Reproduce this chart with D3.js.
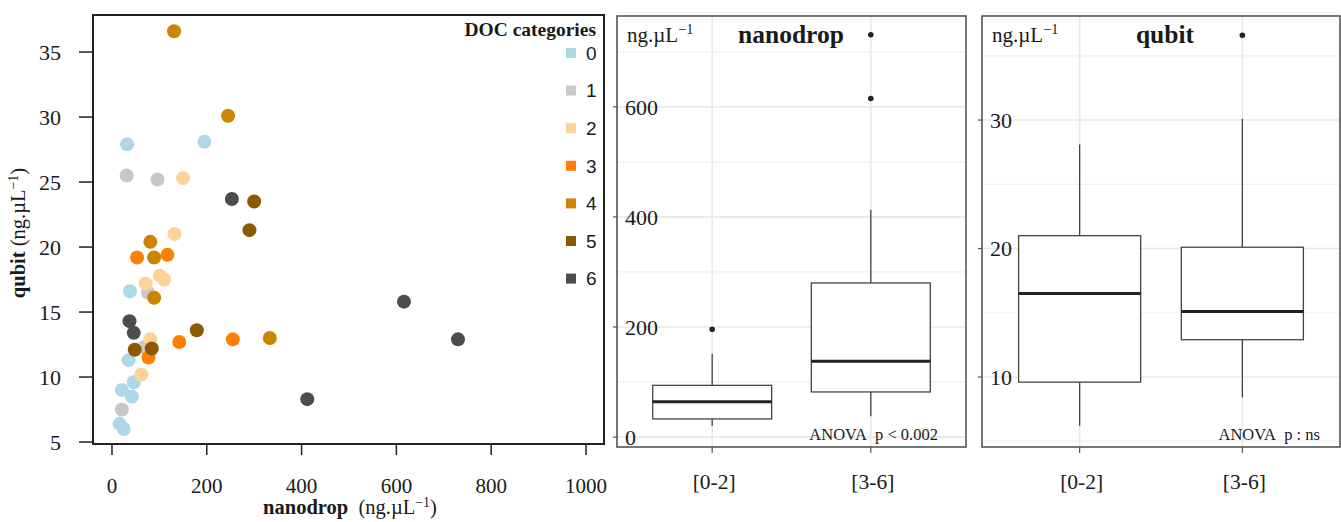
<!DOCTYPE html>
<html lang="en">
<head>
<meta charset="utf-8">
<title>DOC nanodrop qubit</title>
<script src="https://d3js.org/d3.v7.min.js"></script>
<style>
  body { margin: 0; background: #fff; }
  text { font-family: "Liberation Serif", "Times New Roman", serif; fill: #1a1a1a; }
</style>
</head>
<body>
<script>
// ---- data ----
var docCats   = ["0", "1", "2", "3", "4", "5", "6"];
var docColors = ["#add8e6", "#c8c8c8", "#fdd39b", "#ff7f00", "#cd8500", "#8b5a00", "#4d4d4d"];

var pointDoc  = [1, 1, 1, 1, 1,
                 0, 0, 0, 0, 0, 0, 0, 0, 0,
                 2, 2, 2, 2, 2, 2, 2,
                 3, 3, 3, 3, 3,
                 4, 4, 4, 4, 4, 4,
                 5, 5, 5, 5, 5,
                 6, 6, 6, 6, 6, 6];
var nanodrop  = [31, 96, 76, 68, 21,
                 32, 195, 38, 35, 46, 21, 42, 16, 25,
                 150, 132, 101, 110, 71, 81, 62,
                 53, 117, 142, 255, 77,
                 131, 245, 81, 89, 89, 333,
                 300, 290, 179, 48, 84,
                 253, 37, 46, 412, 616, 730];
var qubit     = [25.5, 25.2, 16.5, 12.3, 7.5,
                 27.9, 28.1, 16.6, 11.3, 9.6, 9.0, 8.5, 6.4, 6.0,
                 25.3, 21.0, 17.8, 17.5, 17.2, 12.9, 10.2,
                 19.2, 19.4, 12.7, 12.9, 11.5,
                 36.6, 30.1, 20.4, 19.2, 16.1, 13.0,
                 23.5, 21.3, 13.6, 12.1, 12.2,
                 23.7, 14.3, 13.4, 8.3, 15.8, 12.9];

var groups = ["[0-2]", "[3-6]"];

var nanoLo  = [20, 38];
var nanoQ1  = [33, 82];
var nanoMed = [64, 138];
var nanoQ3  = [94, 280];
var nanoHi  = [151, 413];
var nanoOut = [[196], [615, 731]];

var qubLo  = [6.2, 8.4];
var qubQ1  = [9.6, 12.9];
var qubMed = [16.5, 15.1];
var qubQ3  = [21.0, 20.1];
var qubHi  = [28.1, 30.1];
var qubOut = [[], [36.6]];

var scatterXTicks = [0, 200, 400, 600, 800, 1000];
var scatterYTicks = [5, 10, 15, 20, 25, 30, 35];
var nanoTicks  = [0, 200, 400, 600];
var nanoMinor  = [100, 300, 500, 700];
var qubTicks   = [10, 20, 30];
var qubMinor   = [5, 15, 25, 35];

// ---- svg ----
var svg = d3.select("body").append("svg")
  .attr("width", 1341)
  .attr("height", 522);

// helper: "ng.µL-1" with raised -1
function unitText(sel, prefix) {
  sel.append("tspan").text(prefix + "ng.\u00b5L");
  sel.append("tspan").attr("baseline-shift", "super").attr("font-size", "68%").text("\u22121");
  return sel;
}

// ================= scatter =================
var sx = d3.scaleLinear().domain([-40, 1038]).range([93, 604]);
var sy = d3.scaleLinear().domain([4.85, 37.85]).range([444, 15]);

svg.append("rect")
  .attr("x", 93).attr("y", 15)
  .attr("width", 511).attr("height", 429)
  .attr("fill", "none").attr("stroke", "#222").attr("stroke-width", 2);

// y axis
var yAx = svg.append("g");
yAx.selectAll("line").data(scatterYTicks).enter().append("line")
  .attr("x1", 79).attr("x2", 93)
  .attr("y1", d => sy(d)).attr("y2", d => sy(d))
  .attr("stroke", "#222").attr("stroke-width", 1.5);
yAx.selectAll("text").data(scatterYTicks).enter().append("text")
  .attr("x", 61).attr("y", d => sy(d))
  .attr("dy", "0.35em").attr("text-anchor", "end")
  .attr("font-size", 22).text(d => d);

// x axis
var xAx = svg.append("g");
xAx.selectAll("line").data(scatterXTicks).enter().append("line")
  .attr("x1", d => sx(d)).attr("x2", d => sx(d))
  .attr("y1", 445).attr("y2", 455)
  .attr("stroke", "#222").attr("stroke-width", 1.5);
xAx.selectAll("text").data(scatterXTicks).enter().append("text")
  .attr("x", d => sx(d)).attr("y", 486)
  .attr("dy", "0.35em").attr("text-anchor", "middle")
  .attr("font-size", 21).text(d => d);

// axis titles
var xt = svg.append("text").attr("x", 350).attr("y", 514)
  .attr("text-anchor", "middle").attr("font-size", 20.5);
xt.append("tspan").attr("font-weight", "bold").text("nanodrop");
unitText(xt, "\u00a0\u00a0(");
xt.append("tspan").text(")");

var yt = svg.append("text")
  .attr("transform", "translate(25,233) rotate(-90)")
  .attr("text-anchor", "middle").attr("font-size", 20.5);
yt.append("tspan").attr("font-weight", "bold").text("qubit");
unitText(yt, " (");
yt.append("tspan").text(")");

// points
var pts = d3.range(nanodrop.length);
svg.append("g").selectAll("circle").data(pts).enter().append("circle")
  .attr("cx", i => sx(nanodrop[i]))
  .attr("cy", i => sy(qubit[i]))
  .attr("r", 7)
  .attr("fill", i => docColors[pointDoc[i]]);

// legend
svg.append("text").attr("x", 596).attr("y", 36)
  .attr("text-anchor", "end").attr("font-weight", "bold")
  .attr("font-size", 19.5).text("DOC categories");
var leg = svg.append("g").selectAll("g").data(docCats).enter().append("g")
  .attr("transform", (d, i) => "translate(0," + (53 + i * 37.6) + ")");
leg.append("rect").attr("x", 566).attr("y", -5).attr("width", 10).attr("height", 10)
  .attr("fill", (d, i) => docColors[i]);
leg.append("text").attr("x", 586).attr("y", 0).attr("dy", "0.36em")
  .style("font-family", "'Liberation Sans', Arial, sans-serif")
  .attr("font-size", 19).text(d => d);

// ================= box plots =================
function boxPanel(opt) {
  var g = svg.append("g");
  var x = d3.scaleLinear().domain([0.4, 2.6]).range([opt.left, opt.right]);
  var y = d3.scaleLinear().domain(opt.ydom).range([447, 16]);
  var bw = (x(1.75) - x(1)) / 2;

  // grid
  g.selectAll(".minor").data(opt.minor).enter().append("line")
    .attr("x1", opt.left).attr("x2", opt.right)
    .attr("y1", d => y(d)).attr("y2", d => y(d))
    .attr("stroke", "#f0f0f0").attr("stroke-width", 1.2);
  g.selectAll(".major").data(opt.ticks).enter().append("line")
    .attr("x1", opt.left).attr("x2", opt.right)
    .attr("y1", d => y(d)).attr("y2", d => y(d))
    .attr("stroke", "#e8e8e8").attr("stroke-width", 1.6);
  g.selectAll(".vgrid").data(groups).enter().append("line")
    .attr("x1", (d, i) => x(i + 1)).attr("x2", (d, i) => x(i + 1))
    .attr("y1", 16).attr("y2", 447)
    .attr("stroke", "#e8e8e8").attr("stroke-width", 1.6);

  // y tick labels inside
  g.selectAll(".ytl").data(opt.ticks).enter().append("text")
    .attr("x", opt.left + 8).attr("y", d => y(d)).attr("dy", "0.35em")
    .attr("font-size", 22).text(d => d);
  g.selectAll(".ytk").data(opt.ticks).enter().append("line")
    .attr("x1", opt.left - 4).attr("x2", opt.left)
    .attr("y1", d => y(d)).attr("y2", d => y(d))
    .attr("stroke", "#555").attr("stroke-width", 1.2);

  // boxes
  var bx = g.selectAll(".box").data(groups).enter().append("g");
  bx.append("line")
    .attr("x1", (d, i) => x(i + 1)).attr("x2", (d, i) => x(i + 1))
    .attr("y1", (d, i) => y(opt.hi[i])).attr("y2", (d, i) => y(opt.q3[i]))
    .attr("stroke", "#444").attr("stroke-width", 1.3);
  bx.append("line")
    .attr("x1", (d, i) => x(i + 1)).attr("x2", (d, i) => x(i + 1))
    .attr("y1", (d, i) => y(opt.q1[i])).attr("y2", (d, i) => y(opt.lo[i]))
    .attr("stroke", "#444").attr("stroke-width", 1.3);
  bx.append("rect")
    .attr("x", (d, i) => x(i + 1) - bw).attr("width", 2 * bw)
    .attr("y", (d, i) => y(opt.q3[i]))
    .attr("height", (d, i) => y(opt.q1[i]) - y(opt.q3[i]))
    .attr("fill", "#fff").attr("stroke", "#444").attr("stroke-width", 1.3);
  bx.append("line")
    .attr("x1", (d, i) => x(i + 1) - bw).attr("x2", (d, i) => x(i + 1) + bw)
    .attr("y1", (d, i) => y(opt.med[i])).attr("y2", (d, i) => y(opt.med[i]))
    .attr("stroke", "#222").attr("stroke-width", 3);
  bx.each(function (d, i) {
    d3.select(this).selectAll("circle").data(opt.out[i]).enter().append("circle")
      .attr("cx", x(i + 1)).attr("cy", v => y(v)).attr("r", 2.8)
      .attr("fill", "#222");
  });

  // frame
  g.append("rect")
    .attr("x", opt.left).attr("y", 16)
    .attr("width", opt.right - opt.left).attr("height", 431)
    .attr("fill", "none").attr("stroke", "#555").attr("stroke-width", 1.6);

  // x ticks & labels
  g.selectAll(".xtk").data(groups).enter().append("line")
    .attr("x1", (d, i) => x(i + 1)).attr("x2", (d, i) => x(i + 1))
    .attr("y1", 447).attr("y2", 453)
    .attr("stroke", "#555").attr("stroke-width", 1.2);
  g.selectAll(".xtl").data(groups).enter().append("text")
    .attr("x", (d, i) => x(i + 1) + 2).attr("y", 481).attr("dy", "0.35em")
    .attr("text-anchor", "middle").attr("font-size", 21.5).text(d => d);

  // titles
  unitText(g.append("text").attr("x", opt.left + 10).attr("y", 42).attr("font-size", 21), "");
  g.append("text").attr("x", opt.titleX).attr("y", 43)
    .attr("text-anchor", "middle").attr("font-weight", "bold")
    .attr("font-size", 25.5).text(opt.title);
  g.append("text").attr("x", opt.noteX).attr("y", 434).attr("dy", "0.35em")
    .attr("text-anchor", "end").attr("font-size", 16.5).text(opt.note);
}

boxPanel({
  left: 617, right: 966, ydom: [-18, 765],
  ticks: nanoTicks, minor: nanoMinor,
  lo: nanoLo, q1: nanoQ1, med: nanoMed, q3: nanoQ3, hi: nanoHi, out: nanoOut,
  title: "nanodrop", titleX: 791, note: "ANOVA\u00a0\u00a0p < 0.002", noteX: 938
});

boxPanel({
  left: 982, right: 1340, ydom: [4.55, 38.1],
  ticks: qubTicks, minor: qubMinor,
  lo: qubLo, q1: qubQ1, med: qubMed, q3: qubQ3, hi: qubHi, out: qubOut,
  title: "qubit", titleX: 1165, note: "ANOVA\u00a0\u00a0p : ns", noteX: 1320
});
</script>
</body>
</html>
